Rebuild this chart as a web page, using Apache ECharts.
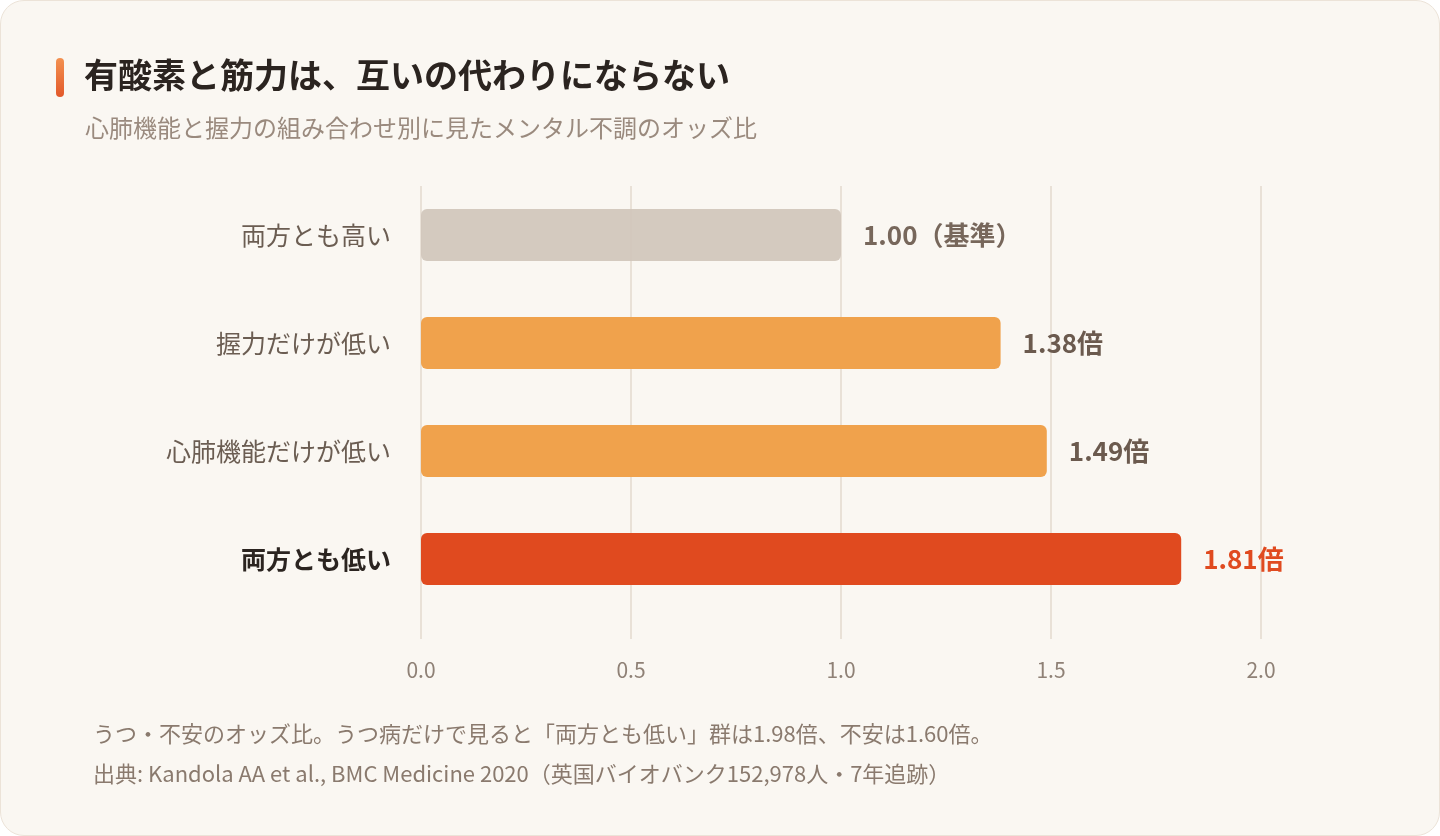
<!DOCTYPE html>
<html lang="ja">
<head>
<meta charset="utf-8" />
<title>有酸素と筋力は、互いの代わりにならない</title>
<script src="https://cdn.jsdelivr.net/npm/echarts@6/dist/echarts.min.js"></script>
<style>
  html, body { margin: 0; padding: 0; background: #ffffff; }
  .card {
    position: absolute; left: 0; top: 0;
    width: 1438px; height: 834px;
    background: #faf7f2;
    border: 1px solid #ece3d8;
    border-radius: 24px;
    overflow: hidden;
  }
  #chart { width: 1438px; height: 834px; }
</style>
</head>
<body>
<div class="card"><div id="chart"></div></div>
<script>
  // 組み合わせ別のオッズ比
  const categories = ["両方とも高い", "握力だけが低い", "心肺機能だけが低い", "両方とも低い"];
  const oddsRatios = [1.0, 1.38, 1.49, 1.81];
  const valueLabels = ["1.00（基準）", "1.38倍", "1.49倍", "1.81倍"];
  const xTicks = [0, 0.5, 1.0, 1.5, 2.0];
  const barColors = ["#d0c5bb", "#f0a24c", "#f0a24c", "#e04a1f"];
  const labelColors = ["#6b5a4e", "#6b5a4e", "#6b5a4e", "#e04a1f"];

  const FONT = '"Noto Sans CJK JP", "Noto Sans", sans-serif';
  const chart = echarts.init(document.getElementById("chart"));

  chart.setOption({
    textStyle: { fontFamily: FONT },
    title: [
      {
        text: "有酸素と筋力は、互いの代わりにならない",
        left: 78,
        top: 52,
        textStyle: { fontSize: 34, fontWeight: "bold", color: "#2b2420", fontFamily: FONT },
      },
      {
        text: "心肺機能と握力の組み合わせ別に見たメンタル不調のオッズ比",
        left: 79,
        top: 110,
        textStyle: { fontSize: 24, fontWeight: "normal", color: "#9a8a7e", fontFamily: FONT },
      },
    ],
    graphic: [
      {
        type: "rect",
        left: 55,
        top: 57,
        shape: { width: 8, height: 39, r: 4 },
        style: {
          fill: new echarts.graphic.LinearGradient(0, 0, 0, 1, [
            { offset: 0, color: "#f39150" },
            { offset: 1, color: "#e2582a" },
          ]),
        },
      },
      {
        type: "text",
        left: 92,
        top: 722,
        style: {
          text: "うつ・不安のオッズ比。うつ病だけで見ると「両方とも低い」群は1.98倍、不安は1.60倍。",
          font: "22px " + FONT,
          fill: "#8a7a6e",
        },
      },
      {
        type: "text",
        left: 92,
        top: 762,
        style: {
          text: "出典: Kandola AA et al., BMC Medicine 2020（英国バイオバンク152,978人・7年追跡）",
          font: "22px " + FONT,
          fill: "#8a7a6e",
        },
      },
    ],
    grid: [
      // バー用
      { left: 420, width: 840, top: 180, height: 432 },
      // 目盛り線・目盛りラベル用
      { left: 420, width: 840, top: 185, height: 453 },
    ],
    xAxis: [
      {
        gridIndex: 0,
        type: "value",
        min: xTicks[0],
        max: xTicks[xTicks.length - 1],
        interval: 0.5,
        show: false,
        splitLine: { show: false },
      },
      {
        gridIndex: 1,
        type: "value",
        min: xTicks[0],
        max: xTicks[xTicks.length - 1],
        interval: 0.5,
        axisLine: { show: false },
        axisTick: { show: false },
        axisLabel: {
          margin: 21,
          fontSize: 21,
          color: "#8f8176",
          formatter: (v) => v.toFixed(1),
        },
        splitLine: { show: true, lineStyle: { color: "#e9e1d7", width: 2 } },
      },
    ],
    yAxis: [
      {
        gridIndex: 0,
        type: "category",
        inverse: true,
        data: categories,
        axisLine: { show: false },
        axisTick: { show: false },
        axisLabel: {
          margin: 30,
          fontSize: 25,
          color: "#6b5d52",
          formatter: (v, i) => (i === categories.length - 1 ? "{b|" + v + "}" : v),
          rich: {
            b: { fontSize: 25, fontWeight: "bold", color: "#2b2420", fontFamily: FONT },
          },
        },
      },
      {
        gridIndex: 1,
        type: "category",
        data: [],
        show: false,
      },
    ],
    series: [
      {
        type: "bar",
        xAxisIndex: 0,
        yAxisIndex: 0,
        barWidth: 52,
        z: 3,
        data: oddsRatios.map((v, i) => ({
          value: v,
          itemStyle: {
            color: barColors[i],
            borderRadius: 6,
            opacity: i === 0 ? 0.92 : 1,
          },
          label: { color: labelColors[i] },
        })),
        label: {
          show: true,
          position: "right",
          distance: 22,
          fontSize: 26,
          fontWeight: "bold",
          fontFamily: FONT,
          formatter: (p) => valueLabels[p.dataIndex],
        },
      },
    ],
  });
</script>
</body>
</html>
